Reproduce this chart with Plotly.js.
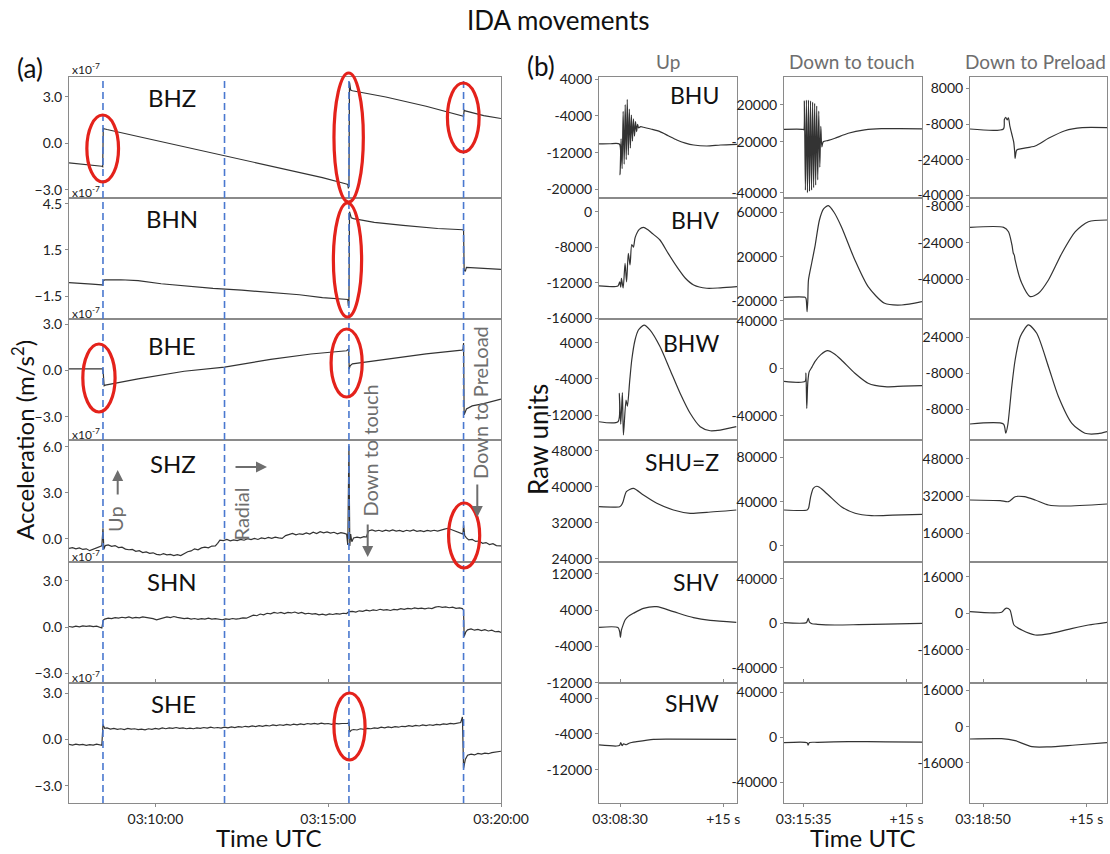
<!DOCTYPE html>
<html><head><meta charset="utf-8">
<script src="https://cdn.plot.ly/plotly-3.0.1.min.js"></script>
<style>body{margin:0;background:#fff}#chart{width:1110px;height:854px}</style>
</head><body><div id="chart"></div>
<script>
// ---------------- DATA ----------------
// (a) acceleration, x1e-7 m/s^2 ; time = seconds after 03:07:30 UTC
const leftChannels = ['BHZ','BHN','BHE','SHZ','SHN','SHE'];
const BHZ = [[0,-1.25],[30,-1.35],[57,-1.47],[58.5,-1.5],[59.5,1.0],[61,0.95],[66,0.9],[120,0.45],[180,-0.05],[270,-0.78],[360,-1.55],[440,-2.2],[480,-2.6],[484,-2.65],[485,-2.9],[486,-2.75],[487,3.97],[489,3.45],[492,3.4],[495,3.38],[550,3.0],[620,2.4],[684,1.78],[685,1.75],[686,2.15],[688,2.1],[720,1.8],[750,1.61]];
const BHN = [[0,-0.63],[20,-0.66],[40,-0.72],[57,-0.78],[58.5,-0.8],[59.5,-0.5],[62,-0.45],[90,-0.44],[120,-0.5],[160,-0.7],[200,-0.85],[250,-1.0],[300,-1.12],[350,-1.28],[400,-1.42],[440,-1.6],[480,-1.72],[484,-1.73],[485,-2.15],[486,-1.9],[487,4.0],[490,3.6],[494,3.55],[530,3.3],[580,3.1],[640,2.9],[684,2.82],[685,2.78],[686,0.2],[688,0.1],[690,0.37],[710,0.33],[750,0.24]];
const BHE = [[0,0.11],[30,0.11],[58.5,0.11],[59.5,-0.2],[61,-0.99],[63,-0.95],[120,-0.55],[200,-0.05],[270,0.22],[350,0.72],[420,1.07],[482,1.28],[484,1.35],[485.5,1.39],[486.5,0.09],[488,0.3],[492,0.43],[560,0.78],[620,1.08],[682,1.32],[684,1.35],[685,1.78],[686,-2.88],[690,-2.5],[700,-2.3],[720,-2.15],[750,-1.86]];
const SHZ = [[0,-0.63],[6,-0.58],[12,-0.66],[18,-0.6],[24,-0.7],[30,-0.66],[36,-0.78],[42,-0.7],[48,-0.62],[54,-0.55],[57,-0.47],[59,0.68],[60.5,-0.69],[63,-0.45],[68,-0.41],[74,-0.5],[80,-0.45],[86,-0.58],[92,-0.55],[98,-0.68],[104,-0.72],[110,-0.7],[116,-0.82],[122,-0.78],[128,-0.9],[134,-0.86],[140,-0.95],[146,-0.92],[152,-1.02],[158,-1.06],[164,-0.98],[170,-1.05],[176,-1.02],[182,-1.1],[188,-1.04],[194,-1.1],[200,-0.98],[206,-0.85],[212,-0.8],[218,-0.66],[224,-0.72],[230,-0.6],[236,-0.55],[242,-0.6],[248,-0.48],[254,-0.47],[258,-0.3],[262,-0.1],[268,-0.12],[274,-0.05],[280,-0.14],[286,-0.08],[292,-0.12],[298,-0.04],[304,-0.1],[310,0.0],[316,-0.06],[322,0.02],[328,-0.05],[334,0.05],[340,0.0],[346,0.08],[352,0.02],[358,0.1],[364,0.05],[370,0.02],[376,0.2],[382,0.3],[388,0.35],[394,0.25],[400,0.32],[406,0.28],[412,0.38],[418,0.3],[424,0.42],[430,0.34],[436,0.46],[442,0.38],[448,0.44],[454,0.36],[460,0.42],[466,0.32],[472,0.4],[478,0.35],[482,0.3],[484,-0.41],[486,6.05],[487.5,-0.47],[489,0.3],[491,-0.2],[494,0.05],[500,0.1],[506,0.05],[512,0.13],[516,0.1],[520,0.5],[526,0.57],[532,0.5],[538,0.55],[544,0.48],[550,0.56],[556,0.5],[562,0.58],[568,0.5],[574,0.54],[580,0.47],[586,0.55],[592,0.5],[598,0.57],[604,0.48],[610,0.52],[616,0.46],[622,0.54],[628,0.5],[634,0.55],[640,0.5],[646,0.58],[652,0.62],[658,0.68],[664,0.6],[670,0.5],[676,0.42],[682,0.35],[684,0.3],[685,0.89],[687,0.2],[690,0.05],[694,-0.08],[700,-0.05],[706,-0.18],[712,-0.15],[718,-0.3],[724,-0.25],[730,-0.38],[736,-0.32],[742,-0.45],[750,-0.47]];
const SHN = [[0,0.04],[6,0.0],[12,0.06],[18,0.02],[24,0.08],[30,0.05],[36,0.08],[42,0.03],[48,0.06],[54,0.0],[57,-0.06],[59.5,0.45],[62,0.52],[68,0.58],[74,0.55],[80,0.62],[86,0.58],[92,0.64],[98,0.6],[104,0.66],[110,0.58],[116,0.63],[122,0.6],[128,0.66],[134,0.62],[140,0.6],[146,0.55],[152,0.47],[158,0.55],[164,0.6],[170,0.66],[176,0.62],[182,0.69],[188,0.63],[194,0.6],[200,0.55],[206,0.58],[212,0.52],[218,0.56],[224,0.5],[230,0.55],[236,0.52],[242,0.58],[248,0.52],[254,0.55],[260,0.5],[266,0.48],[272,0.54],[278,0.5],[284,0.56],[290,0.52],[296,0.55],[302,0.6],[308,0.58],[314,0.7],[320,0.78],[326,0.74],[332,0.85],[338,0.8],[344,0.9],[350,0.86],[356,0.95],[362,0.9],[368,0.95],[374,0.88],[380,0.96],[386,0.92],[392,0.98],[398,0.9],[404,0.95],[410,0.86],[416,0.9],[422,0.84],[428,0.88],[434,0.8],[440,0.84],[446,0.78],[452,0.86],[458,0.82],[464,0.88],[470,0.85],[476,0.9],[482,0.88],[486,1.01],[492,1.02],[498,0.98],[504,1.06],[510,1.02],[516,1.1],[522,1.05],[528,1.12],[534,1.08],[540,1.16],[546,1.1],[552,1.14],[558,1.08],[564,1.15],[570,1.12],[576,1.2],[582,1.15],[588,1.22],[594,1.18],[600,1.25],[606,1.2],[612,1.23],[618,1.18],[624,1.24],[630,1.2],[636,1.3],[642,1.34],[648,1.28],[654,1.32],[660,1.26],[666,1.3],[672,1.22],[678,1.25],[683,1.2],[685,1.1],[686,-0.61],[689,-0.3],[692,-0.18],[698,-0.12],[704,-0.2],[710,-0.15],[716,-0.22],[722,-0.16],[728,-0.25],[734,-0.2],[740,-0.3],[746,-0.28],[750,-0.35]];
const SHE = [[0,-0.32],[6,-0.36],[12,-0.3],[18,-0.35],[24,-0.32],[30,-0.38],[36,-0.33],[42,-0.36],[48,-0.3],[54,-0.35],[57,-0.37],[59,0.97],[62,0.72],[66,0.75],[72,0.68],[78,0.72],[84,0.66],[90,0.7],[96,0.65],[102,0.72],[108,0.67],[114,0.7],[120,0.64],[126,0.68],[132,0.63],[138,0.7],[144,0.66],[150,0.72],[156,0.68],[162,0.75],[168,0.7],[174,0.76],[180,0.72],[186,0.78],[192,0.72],[198,0.76],[204,0.7],[210,0.74],[216,0.7],[222,0.75],[228,0.72],[234,0.78],[240,0.74],[246,0.8],[252,0.75],[258,0.78],[264,0.74],[270,0.8],[276,0.76],[282,0.82],[288,0.78],[294,0.84],[300,0.8],[306,0.86],[312,0.82],[318,0.88],[324,0.84],[330,0.9],[336,0.86],[342,0.92],[348,0.88],[354,0.95],[360,0.9],[366,0.96],[372,0.92],[378,0.98],[384,0.93],[390,1.0],[396,0.95],[402,1.02],[408,0.97],[414,1.04],[420,1.0],[426,1.05],[432,1.0],[438,1.06],[444,1.02],[450,1.04],[456,0.98],[462,1.05],[468,1.02],[474,1.04],[480,1.03],[484,1.04],[486,1.14],[487,0.49],[490,0.6],[494,0.65],[500,0.62],[506,0.7],[512,0.66],[518,0.72],[524,0.7],[530,0.76],[536,0.72],[542,0.8],[548,0.76],[554,0.82],[560,0.78],[566,0.84],[572,0.8],[578,0.86],[584,0.84],[590,0.9],[596,0.86],[602,0.92],[608,0.88],[614,0.95],[620,0.9],[626,0.96],[632,0.92],[638,0.98],[644,0.95],[650,1.02],[656,0.98],[662,1.05],[668,1.02],[674,1.08],[680,1.1],[683,1.47],[685,-1.88],[688,-1.3],[692,-1.02],[698,-0.95],[704,-1.0],[710,-0.9],[716,-0.95],[722,-0.88],[728,-0.92],[734,-0.85],[740,-0.8],[746,-0.78],[750,-0.76]];
const leftData = [BHZ,BHN,BHE,SHZ,SHN,SHE];
const leftYRanges = [[-3.52,4.29],[-3.0,4.89],[-4.51,3.34],[-1.52,6.44],[-3.63,4.23],[-4.12,3.67]];
const leftTickVals = [[3,0,-3],[4.5,1.5,-1.5],[3,0,-3],[6,3,0],[3,0,-3],[3,0,-3]];
const leftTimeTicks = [150,450,750];           // 03:10:00, 03:15:00, 03:20:00
const eventTimes = [59,270,486,685];           // Up, Radial, Down to touch, Down to preload
// red ellipses: [t start, t end] (s) and vertical pixel extent
const ellipses = [[31,86,115,182],[460,511,73,202],[459,508,203,317],[657,712,83,152],[24,80,344,412],[455,509,329,397],[659,713,503,568],[460,514,693,760]];

// (b) raw units ; time = seconds relative to the column start tick
const rightChannels = ['BHU','BHV','BHW','SHU=Z','SHV','SHW'];
const columnTitles = ['Up','Down to touch','Down to Preload'];
const columnStartLabels = ['03:08:30','03:15:35','03:18:50'];
const upBHU = [[-3.06,-10100],[-1.5,-10050],[-0.1,-10100],[0.0,-16800],[0.15,-9000],[0.3,-15500],[0.45,-3000],[0.6,-14500],[0.75,-1500],[0.9,-13500],[1.05,-400],[1.2,-12500],[1.35,-2500],[1.5,-11000],[1.65,-3800],[1.8,-9500],[1.95,-4600],[2.1,-8400],[2.25,-5200],[2.4,-7400],[2.55,-5800],[2.7,-6600],[3.0,-6300],[3.4,-6460],[4.6,-6900],[5.8,-7420],[7.0,-8300],[8.25,-9230],[9.5,-9900],[10.7,-10320],[12.6,-10540],[14.6,-10320],[17.0,-10170]];
const upBHV = [[-3.06,-12370],[-0.3,-12370],[-0.05,-11900],[0.1,-12500],[0.2,-11500],[0.45,-12600],[0.73,-9820],[0.95,-11900],[1.2,-8690],[1.45,-10000],[1.7,-7700],[1.94,-8000],[2.2,-6900],[2.8,-6000],[3.4,-5760],[4.0,-6000],[4.6,-6400],[5.8,-7190],[7.0,-8700],[8.25,-10200],[9.5,-11500],[10.7,-12260],[12.6,-12630],[14.6,-12580],[17.0,-12450]];
const upBHW = [[-3.06,-13460],[-0.3,-13460],[-0.1,-7180],[0.1,-14000],[0.34,-7000],[0.49,-16400],[0.87,-8660],[1.07,-10000],[1.4,-4500],[1.7,180],[2.18,4600],[2.67,6800],[3.49,7900],[4.37,6800],[5.82,3120],[7.28,-2030],[8.73,-7180],[10.19,-11600],[11.65,-14560],[13.1,-15450],[14.56,-15300],[16.9,-14560]];
const upSHU = [[-3.06,35560],[-0.05,35560],[0.2,35900],[0.44,36670],[0.92,38890],[1.94,39640],[3.4,38160],[5.34,36310],[7.76,34830],[10.19,34090],[12.6,34300],[16.9,34830]];
const upSHV = [[-3.06,190],[-0.3,150],[-0.05,-800],[0.05,-2010],[0.2,-400],[0.44,700],[0.73,1800],[1.2,2600],[1.94,3270],[3.4,4370],[5.34,4730],[7.76,3630],[10.67,2310],[13.1,1700],[16.9,1290]];
const upSHW = [[-3.06,-6450],[-0.5,-6680],[-0.05,-6500],[0.1,-5900],[0.3,-6600],[0.5,-6200],[0.9,-6400],[1.4,-6000],[2.43,-5710],[4.85,-5180],[7.3,-5130],[16.9,-5180]];
const touchBHU = [[-2.87,-15140],[-0.2,-15140],[0,-15300],[0.1,-4000],[0.25,-39000],[0.4,-3700],[0.55,-40000],[0.7,-3700],[0.85,-39500],[1.0,-4000],[1.15,-39000],[1.3,-4500],[1.45,-38000],[1.6,-5000],[1.75,-37000],[1.9,-6000],[2.05,-35000],[2.2,-8000],[2.35,-30000],[2.5,-14000],[2.65,-22000],[2.85,-20000],[3.6,-19500],[4.56,-18670],[6.5,-16700],[8.9,-15400],[11.35,-14900],[14,-14900],[17.26,-14950]];
const touchBHV = [[-2.87,-16750],[0.2,-16750],[0.35,-18000],[0.5,-29800],[0.6,-20000],[0.7,-1100],[1.2,15200],[1.64,29050],[2.3,53200],[2.9,63200],[3.6,66150],[4.4,60450],[5.5,47150],[7.47,17000],[9.4,-7150],[11.8,-22200],[14.3,-23700],[17.26,-20700]];
const touchBHW = [[-2.87,-11000],[0.2,-11000],[0.33,-4000],[0.45,-33700],[0.6,-12000],[0.8,-3000],[1.2,1000],[1.64,5560],[2.5,11500],[3.5,14800],[4.5,12000],[5.5,7000],[7.47,-4200],[9.4,-12600],[11.8,-15500],[14.5,-15000],[17.26,-14650]];
const touchSHU = [[-2.87,32490],[0.5,32490],[0.7,34000],[1.0,44000],[1.4,52100],[1.9,54000],[2.3,53000],[3.6,46060],[5.5,35475],[7.5,29500],[9.9,27330],[13,27800],[17.26,28600]];
const touchSHV = [[-2.87,540],[0.4,600],[0.55,2500],[0.67,4500],[0.85,1000],[1.2,-400],[2.0,-900],[4.56,-1530],[8,-1200],[12,-700],[17.26,0]];
const touchSHW = [[-2.87,-4820],[0.5,-4820],[0.65,-6900],[0.85,-4700],[2,-4470],[6.5,-3900],[12,-4000],[17.26,-4300]];
const preBHU = [[-1.89,-10240],[2.96,-10240],[3.1,-6000],[3.3,-5000],[3.5,-6200],[3.69,-5200],[3.9,-9000],[4.1,-11500],[4.27,-13680],[4.45,-16000],[4.6,-20500],[4.66,-23330],[4.9,-19620],[5.63,-19000],[7.57,-17830],[9.5,-14400],[11.9,-11000],[14.4,-9650],[18.0,-9650]];
const preBHV = [[-1.89,-17300],[3.0,-17300],[3.7,-19200],[4.2,-25000],[4.4,-28600],[4.55,-29500],[4.66,-31540],[5.63,-41700],[6.84,-47500],[8.05,-46060],[9.5,-40260],[11.45,-28600],[13.4,-19200],[15.3,-14850],[18.0,-14100]];
const preBHW = [[-1.89,-14660],[2.96,-14660],[3.3,-18800],[3.6,-15000],[4.17,2000],[4.66,13950],[5.4,24360],[6.6,29600],[7.8,25880],[9.5,10950],[10.96,-2460],[12.9,-14350],[14.8,-18800],[16.7,-19000],[18.0,-18100]];
const preSHU = [[-1.89,30280],[2.5,30000],[3.7,29550],[4.66,31700],[6.0,31700],[7.57,30280],[9.5,28130],[11.9,27700],[18.0,28560]];
const preSHV = [[-1.89,700],[2.7,440],[3.3,2180],[3.9,1500],[4.5,-5110],[5.63,-7300],[7.57,-9480],[9.5,-9000],[12.4,-7000],[15.3,-5110],[18.0,-3930]];
const preSHW = [[-1.89,-5420],[2.7,-5300],[4.66,-6170],[7.1,-8820],[9.5,-8900],[13.4,-8070],[18.0,-7060]];
const rightData = [[upBHU,upBHV,upBHW,upSHU,upSHV,upSHW],[touchBHU,touchBHV,touchBHW,touchSHU,touchSHV,touchSHW],[preBHU,preBHV,preBHW,preSHU,preSHV,preSHW]];
const rightXRanges = [[-3.06,17.0],[-2.87,17.26],[-1.89,18.0]];
const rightYRanges = [
 [[-21880,4500],[-16093,-2456],[-17500,9240],[23280,50370],[-12060,14560],[-19390,7370]],
 [[-42070,5360],[-36380,73120],[-60370,41510],[-14570,95840],[-53670,55110],[-58670,48490]],
 [[-41080,13010],[-57270,-4510],[-21810,32270],[3620,56080],[-30460,22420],[-33650,19270]]];
const rightTickVals = [
 [[4000,-4000,-12000,-20000],[-4000,-8000,-12000,-16000],[4000,-4000,-12000],[48000,40000,32000,24000],[12000,4000,-4000,-12000],[4000,-4000,-12000]],
 [[-5610,-20000,-40000],[60000,20000,-20000],[40000,0,-40000],[80000,40000,0],[40000,0,-40000],[40000,0,-40000]],
 [[8000,-8000,-24000,-40000],[-8000,-24000,-40000],[24000,8000,-8000],[48000,32000,16000],[16000,0,-16000],[16000,0,-16000]]];
const rightTickText = [
 [['4000','-4000','-12000','-20000'],['0','-8000','-12000','-16000'],['4000','-4000','-12000'],['48000','40000','32000','24000'],['12000','4000','-4000','-12000'],['4000','-4000','-12000']],
 [['20000','-20000','-40000'],['60000','20000','-20000'],['40000','0','-40000'],['80000','40000','0'],['40000','0','-40000'],['40000','0','-40000']],
 [['8000','-8000','-24000','-40000'],['-8000','-24000','-40000'],['24000','-8000','-8000'],['48000','32000','16000'],['16000','0','-16000'],['16000','0','-16000']]];

// ---------------- LAYOUT GEOMETRY (pixels) ----------------
const W = 1110, H = 854;
const rowPx = [[77,198],[198,319],[319,440],[440,562],[562,683],[683,803]];
const leftColPx = [69,501];
const rightColPx = [[599,737],[784,922],[970,1107]];
const px = p => p / W;
const py = p => 1 - p / H;
const FONT = 'Lato, "Open Sans", sans-serif';
const base = Date.UTC(2021,0,1,3,7,30);
const ts = s => new Date(base + Math.round(s*1000)).toISOString().replace('T',' ').replace('Z','');

const traces = [];
const layout = {
  width: W, height: H, margin: {l:0,r:0,t:0,b:0},
  paper_bgcolor: '#fff', plot_bgcolor: '#fff', showlegend: false,
  font: {family: FONT, color: '#222', size: 14},
  shapes: [], annotations: []
};
const axLine = {showline: true, linecolor: '#8a8a8a', linewidth: 1, showgrid: false, zeroline: false,
  ticks: 'outside', ticklen: 3, tickcolor: '#8a8a8a', tickfont: {family: FONT, size: 14, color: '#222'}};

// left panel
layout.xaxis = Object.assign({}, axLine, {type: 'date', domain: [px(leftColPx[0]), px(leftColPx[1])], anchor: 'y6',
  range: [ts(0), ts(750)], tickvals: leftTimeTicks.map(ts), tickformat: '%H:%M:%S', mirror: 'all'});
leftData.forEach((d, i) => {
  const yid = i === 0 ? 'y' : 'y' + (i+1);
  traces.push({x: d.map(p => ts(p[0])), y: d.map(p => p[1]), xaxis: 'x', yaxis: yid, mode: 'lines',
    line: {color: '#333', width: 1.2}, hoverinfo: 'skip'});
  layout[i === 0 ? 'yaxis' : 'yaxis' + (i+1)] = Object.assign({}, axLine, {
    domain: [py(rowPx[i][1]), py(rowPx[i][0])], anchor: 'x', range: leftYRanges[i],
    tickvals: leftTickVals[i], tickformat: '.1f', mirror: true});
});

// right panel
for (let c = 0; c < 3; c++) {
  const xn = c + 2;
  const bottomY = 7 + c*6 + 5;
  layout['xaxis' + xn] = Object.assign({}, axLine, {domain: [px(rightColPx[c][0]), px(rightColPx[c][1])],
    anchor: 'y' + bottomY, range: rightXRanges[c], tickvals: [0, 15], ticktext: [columnStartLabels[c], '+15 s'], mirror: 'all'});
  for (let r = 0; r < 6; r++) {
    const yn = 7 + c*6 + r;
    const d = rightData[c][r];
    traces.push({x: d.map(p => p[0]), y: d.map(p => p[1]), xaxis: 'x' + xn, yaxis: 'y' + yn, mode: 'lines',
      line: {color: '#333', width: 1.2, shape: 'spline', smoothing: 0.7}, hoverinfo: 'skip'});
    layout['yaxis' + yn] = Object.assign({}, axLine, {domain: [py(rowPx[r][1]), py(rowPx[r][0])], anchor: 'x' + xn,
      range: rightYRanges[c][r], tickvals: rightTickVals[c][r], ticktext: rightTickText[c][r], mirror: true});
  }
}

// event lines
eventTimes.forEach(e => layout.shapes.push({type: 'line', xref: 'x', yref: 'paper', x0: ts(e), x1: ts(e),
  y0: py(rowPx[5][1]), y1: py(rowPx[0][0]), line: {color: '#4a78cf', width: 1.6, dash: '7px,4px'}}));
// red ellipses
ellipses.forEach(e => layout.shapes.push({type: 'circle', xref: 'x', yref: 'paper', x0: ts(e[0]), x1: ts(e[1]),
  y0: py(e[3]), y1: py(e[2]), line: {color: '#e4221b', width: 3.2}}));

// annotations
const A = (text, x, y, opt) => layout.annotations.push(Object.assign({text, x: px(x), y: py(y), xref: 'paper', yref: 'paper',
  showarrow: false, xanchor: 'center', yanchor: 'middle', font: {family: FONT, size: 14, color: '#111'}}, opt || {}));
A('IDA movements', 558, 20, {font: {family: FONT, size: 26, color: '#111'}});
A('(a)', 30, 68, {font: {family: FONT, size: 26, color: '#111'}});
A('(b)', 541, 66, {font: {family: FONT, size: 26, color: '#111'}});
// exponent labels
A('x10<sup>-7</sup>', 70, 69, {xanchor: 'left', font: {family: FONT, size: 12, color: '#222'}});
for (let i = 0; i < 5; i++) A('x10<sup>-7</sup>', 70, rowPx[i][1] - 6, {xanchor: 'left', font: {family: FONT, size: 12, color: '#222'}});
// channel labels
const leftLabelPos = [[172,97],[172,218],[172,345],[173,463],[172,581],[173,703]];
leftChannels.forEach((n, i) => A(n, leftLabelPos[i][0], leftLabelPos[i][1], {font: {family: FONT, size: 24, color: '#111'}}));
const rightLabelY = [95,220,343,462,582,703];
rightChannels.forEach((n, i) => A(n, 721, rightLabelY[i], {xanchor: 'right', font: {family: FONT, size: 23, color: '#111'}}));
const colTitleX = [668,852,1035];
columnTitles.forEach((t, i) => A(t, colTitleX[i], 62, {font: {family: FONT, size: 19, color: '#6e6e6e'}}));
// axis titles
A('Acceleration (m/s<sup>2</sup>)', 23, 440, {textangle: -90, font: {family: FONT, size: 24, color: '#111'}});
A('Raw units', 538, 440, {textangle: -90, font: {family: FONT, size: 26, color: '#111'}});
A('Time UTC', 269, 853, {yanchor: 'bottom', borderpad: 0, font: {family: FONT, size: 24, color: '#111'}});
A('Time UTC', 863, 853, {yanchor: 'bottom', borderpad: 0, font: {family: FONT, size: 24, color: '#111'}});
// movement labels
const gray = '#6e6e6e';
A('Up', 115, 519, {textangle: -90, font: {family: FONT, size: 20, color: gray}});
A('Radial', 240.5, 514, {textangle: -90, font: {family: FONT, size: 20, color: gray}});
A('Down to touch', 369.5, 451, {textangle: -90, font: {family: FONT, size: 20, color: gray}});
A('Down to PreLoad', 479.5, 402.5, {textangle: -90, font: {family: FONT, size: 20, color: gray}});
const arr = (x, y, ax, ay) => layout.annotations.push({text: '', x: px(x), y: py(y), xref: 'paper', yref: 'paper',
  showarrow: true, ax, ay, arrowhead: 2, arrowsize: 1.1, arrowwidth: 2, arrowcolor: gray});
arr(117.7, 470, 0, 26);
arr(267, 467, -33, 0);
arr(367.7, 557, 0, -34);
arr(477.3, 517, 0, -34);

Plotly.newPlot('chart', traces, layout, {displayModeBar: false, staticPlot: true});
</script></body></html>
